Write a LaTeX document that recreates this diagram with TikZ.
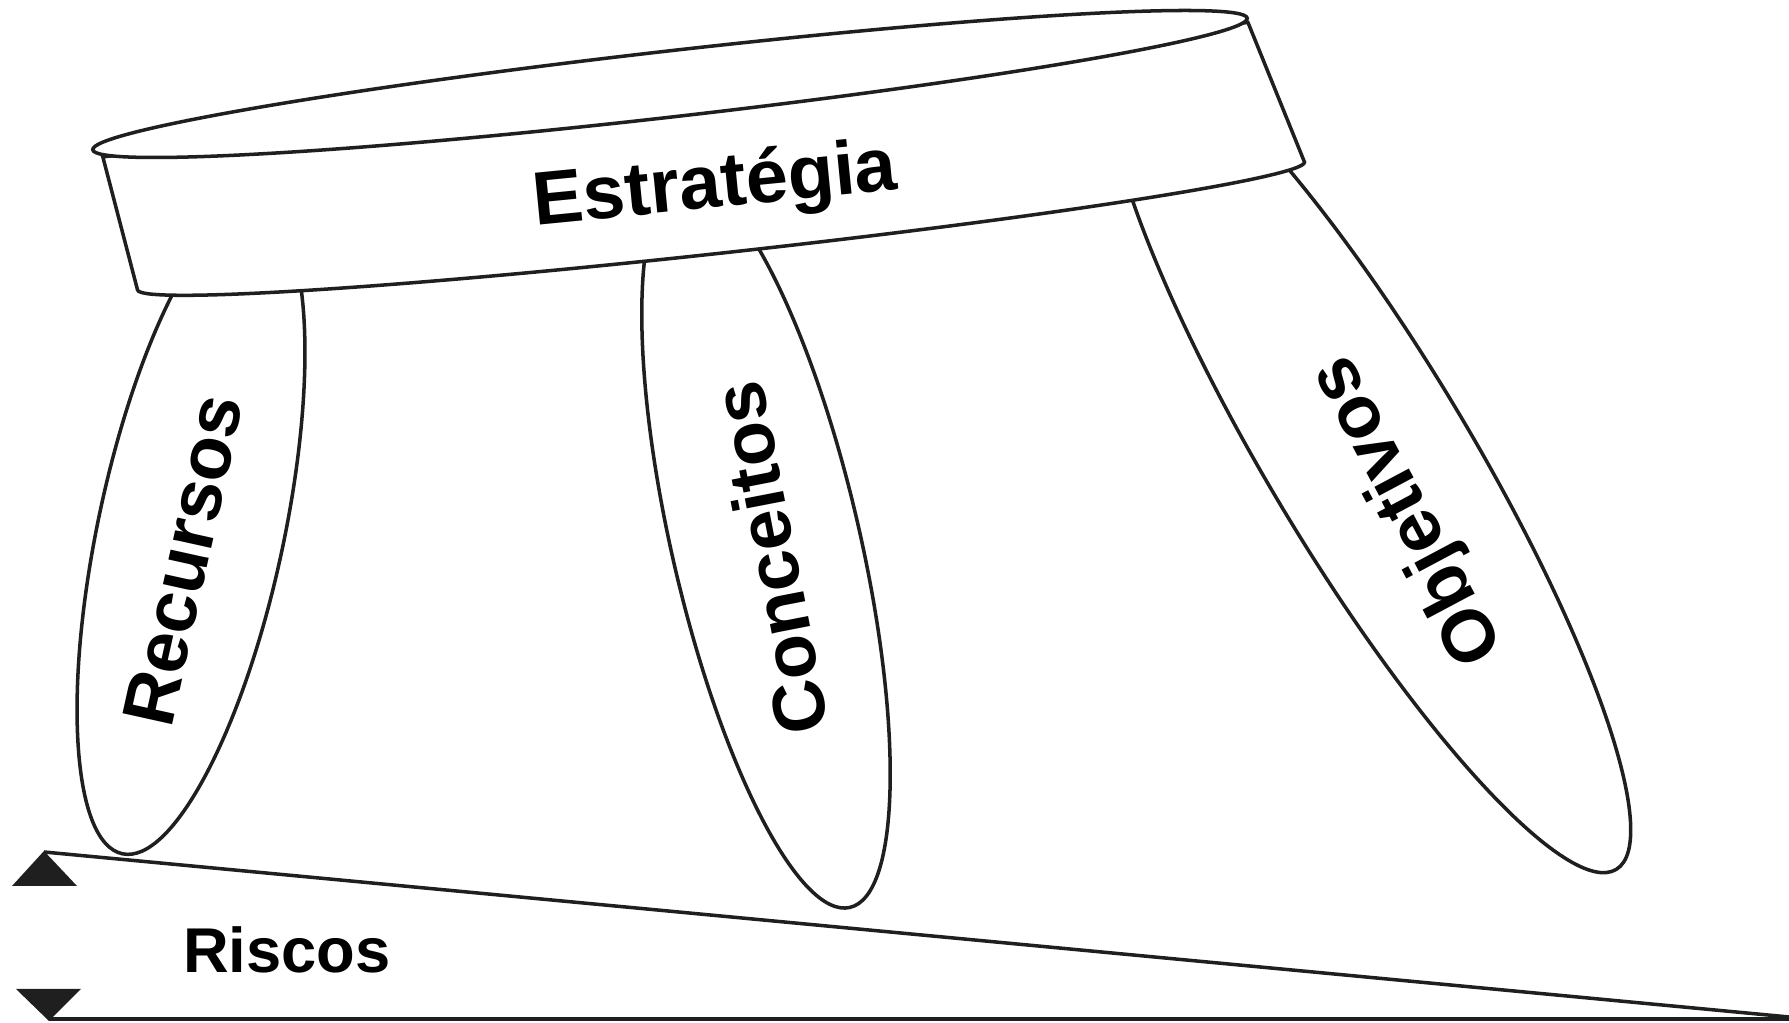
\documentclass[tikz,border=0pt]{standalone}
\usepackage{fontspec}
\setmainfont{Liberation Sans}
\usetikzlibrary{shapes.geometric}

\begin{document}
\begin{tikzpicture}[
  outline/.style={draw=black!88, line width=1pt},
  leg/.style={outline, ellipse, fill=white, inner sep=0pt},
  txt/.style={font=\bfseries\fontsize{21}{25}\selectfont, inner sep=0pt},
  ]
\useasboundingbox (0,0) rectangle (17.89,-10.23);
%% 다리 세 개
\node[leg, rotate=78, minimum width=6.6cm, minimum height=1.86cm] (recursos) at (1.91,-5.31) {};
\node[leg, rotate=103, minimum width=7.46cm, minimum height=1.88cm] (conceitos) at (7.66,-5.44) {};
\node[leg, rotate=121, minimum width=9.6cm, minimum height=2.0cm] (objetivos) at (13.69,-4.58) {};
\node[txt, rotate=77.5] (recursostxt) at (1.83,-5.60) {Recursos};
\node[txt, rotate=101] (conceitostxt) at (7.70,-5.58) {Conceitos};
\node[txt, rotate=118] (objetivostxt) at (14.09,-5.10) {Objetivos};
%% 원판 옆면과 윗면
\begin{scope}[shift={(7.21,-2.26)}, rotate=6.25]
\draw[outline, fill=white] (-6.07,1.36) -- (-5.87,0) arc[start angle=180, end angle=360, x radius=5.87, y radius=0.27] -- (5.46,1.45) -- cycle;
\end{scope}
\draw[outline, fill=white] (6.70,-0.84) ellipse [x radius=5.81, y radius=0.33, rotate=6.5];
\node[txt, font=\bfseries\fontsize{21.5}{25}\selectfont, rotate=5.6, anchor=base] (estrategia) at (7.17,-2.075) {Estratégia};
%% 바닥 (위험)
\fill[black!88] (0.12,-8.86) -- (0.77,-8.86) -- (0.44,-8.51) -- cycle;
\fill[black!88] (0.16,-9.89) -- (0.81,-9.89) -- (0.49,-10.21) -- cycle;
\coordinate (tip) at (0.44,-8.52);
\coordinate (far) at (17.89,-10.17);
\coordinate (base) at (0.49,-10.19);
\coordinate (farbase) at (17.89,-10.19);
\draw[outline] (tip) -- (far);
\draw[outline, line width=1.3pt] (base) -- (farbase);
\node[txt, font=\bfseries\fontsize{18}{22}\selectfont, anchor=base] (riscos) at (2.87,-9.73) {Riscos};
\end{tikzpicture}
\end{document}
